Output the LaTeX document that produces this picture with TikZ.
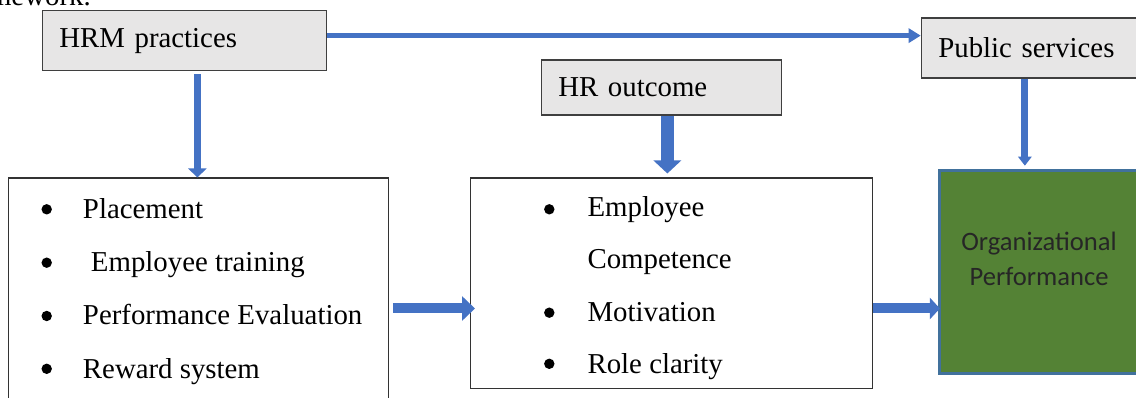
\documentclass[tikz,border=0pt]{standalone}
\usepackage{fontspec}
\setmainfont{Liberation Serif}
\newfontfamily\calibri{Carlito}
\usetikzlibrary{arrows.meta}

\definecolor{boxgray}{HTML}{E7E6E6}
\definecolor{edgegray}{HTML}{3F3F3F}
\definecolor{arrowblue}{HTML}{4472C4}
\definecolor{perfgreen}{HTML}{548235}
\definecolor{perfedge}{HTML}{41719C}

\begin{document}
\begin{tikzpicture}[x=0.025cm,y=-0.025cm]
% Estilos
\tikzset{
  headbox/.style={rectangle, draw=edgegray, line width=0.9pt, fill=boxgray, anchor=north west, inner sep=0pt, inner xsep=0.425cm, align=left, font=\fontsize{20.5}{25}\selectfont},
  listbox/.style={rectangle, draw=black!80, line width=0.8pt, fill=white, anchor=north west, inner sep=0pt},
  perfbox/.style={rectangle, draw=perfedge, line width=2pt, fill=perfgreen, anchor=north west, inner sep=0pt},
  item/.style={anchor=base west, inner sep=0pt, font=\fontsize{20.5}{25}\selectfont},
  dot/.style={circle, fill=black, minimum size=0.26cm, inner sep=0pt},
  flow/.style={draw=arrowblue, line width=#1}
}
\useasboundingbox (0,0) rectangle (1136,398);
\clip (0,0) rectangle (1136,398);

% Legenda cortada no topo
\node[item, anchor=base east] (caption) at (91,6) {framework.};

% Caixas de cima
\node[headbox, text width=6.25cm, minimum height=1.5cm] (hrm) at (41.7,10) {HRM practices};
\node[headbox, text width=5.15cm, minimum height=1.375cm] (hrout) at (540.7,59.3) {HR outcome};
\node[headbox, text width=4.625cm, minimum height=1.5cm] (pubserv) at (920.7,17.3) {Public services};

% Caixa 1: praticas
\node[listbox, minimum width=9.485cm, minimum height=5.8cm] (practices) at (8.3,177.5) {};
\node[dot] (d1) at (46.7,209.3) {};
\node[item] (p1) at (82.7,218.3) {Placement};
\node[dot] (d2) at (46.7,262.7) {};
\node[item] (p2) at (90.7,271.7) {Employee training};
\node[dot] (d3) at (46.7,316) {};
\node[item] (p3) at (82.7,325) {Performance Evaluation};
\node[dot] (d4) at (46.7,368.8) {};
\node[item] (p4) at (82.7,378.3) {Reward system};

% Caixa 2: resultados
\node[listbox, minimum width=10.05cm, minimum height=5.26cm] (outcomes) at (470,177.5) {};
\node[dot] (d5) at (549.3,209.3) {};
\node[item] (o1) at (587.3,216.7) {Employee};
\node[item] (o2) at (587.3,268.3) {Competence};
\node[dot] (d6) at (549.3,312.7) {};
\node[item] (o3) at (587.3,321.7) {Motivation};
\node[dot] (d7) at (549.3,363.8) {};
\node[item] (o4) at (587.3,373.3) {Role clarity};

% Caixa 3: desempenho
\node[perfbox, minimum width=5.05cm, minimum height=5.075cm] (orgperf) at (938.3,169.3) {};
\node[align=center, text=black!85, font=\calibri\fontsize{18.9}{25.1}\selectfont] (orgtxt) at (1039,259) {Organizational\\Performance};

% Setas
\coordinate (hrmout) at ([yshift=0.125cm]hrm.east);
\draw[flow=0.125cm, -{Triangle[length=0.3cm,width=0.35cm]}] (hrmout) -- (hrmout -| pubserv.west);

\coordinate (hrmdown) at ([xshift=0.325cm]hrm.south);
\draw[flow=0.175cm, -{Triangle[length=0.225cm,width=0.45cm]}, shorten <=0.075cm] (hrmdown) -- (hrmdown |- practices.north);

\coordinate (hrdown) at ([xshift=0.15cm]hrout.south);
\draw[flow=0.325cm, -{Triangle[length=0.325cm,width=0.675cm]}, shorten >=0.1cm] (hrdown) -- (hrdown |- outcomes.north);

\coordinate (pubdown) at ([xshift=-0.15cm]pubserv.south);
\draw[flow=0.175cm, -{Triangle[length=0.225cm,width=0.33cm]}, shorten >=0.09cm] (pubdown) -- (pubdown |- orgperf.north);

\coordinate (midin) at ([yshift=-0.63cm]outcomes.west);
\draw[flow=0.25cm, -{Triangle[length=0.325cm,width=0.6cm]}, shorten <=0.1cm, shorten >=-0.125cm] (midin -| practices.east) -- (midin);

\coordinate (midout) at ([yshift=-0.63cm]outcomes.east);
\draw[flow=0.25cm, -{Triangle[length=0.25cm,width=0.525cm]}, shorten >=-0.04cm] (midout) -- (midout -| orgperf.west);

\end{tikzpicture}
\end{document}
